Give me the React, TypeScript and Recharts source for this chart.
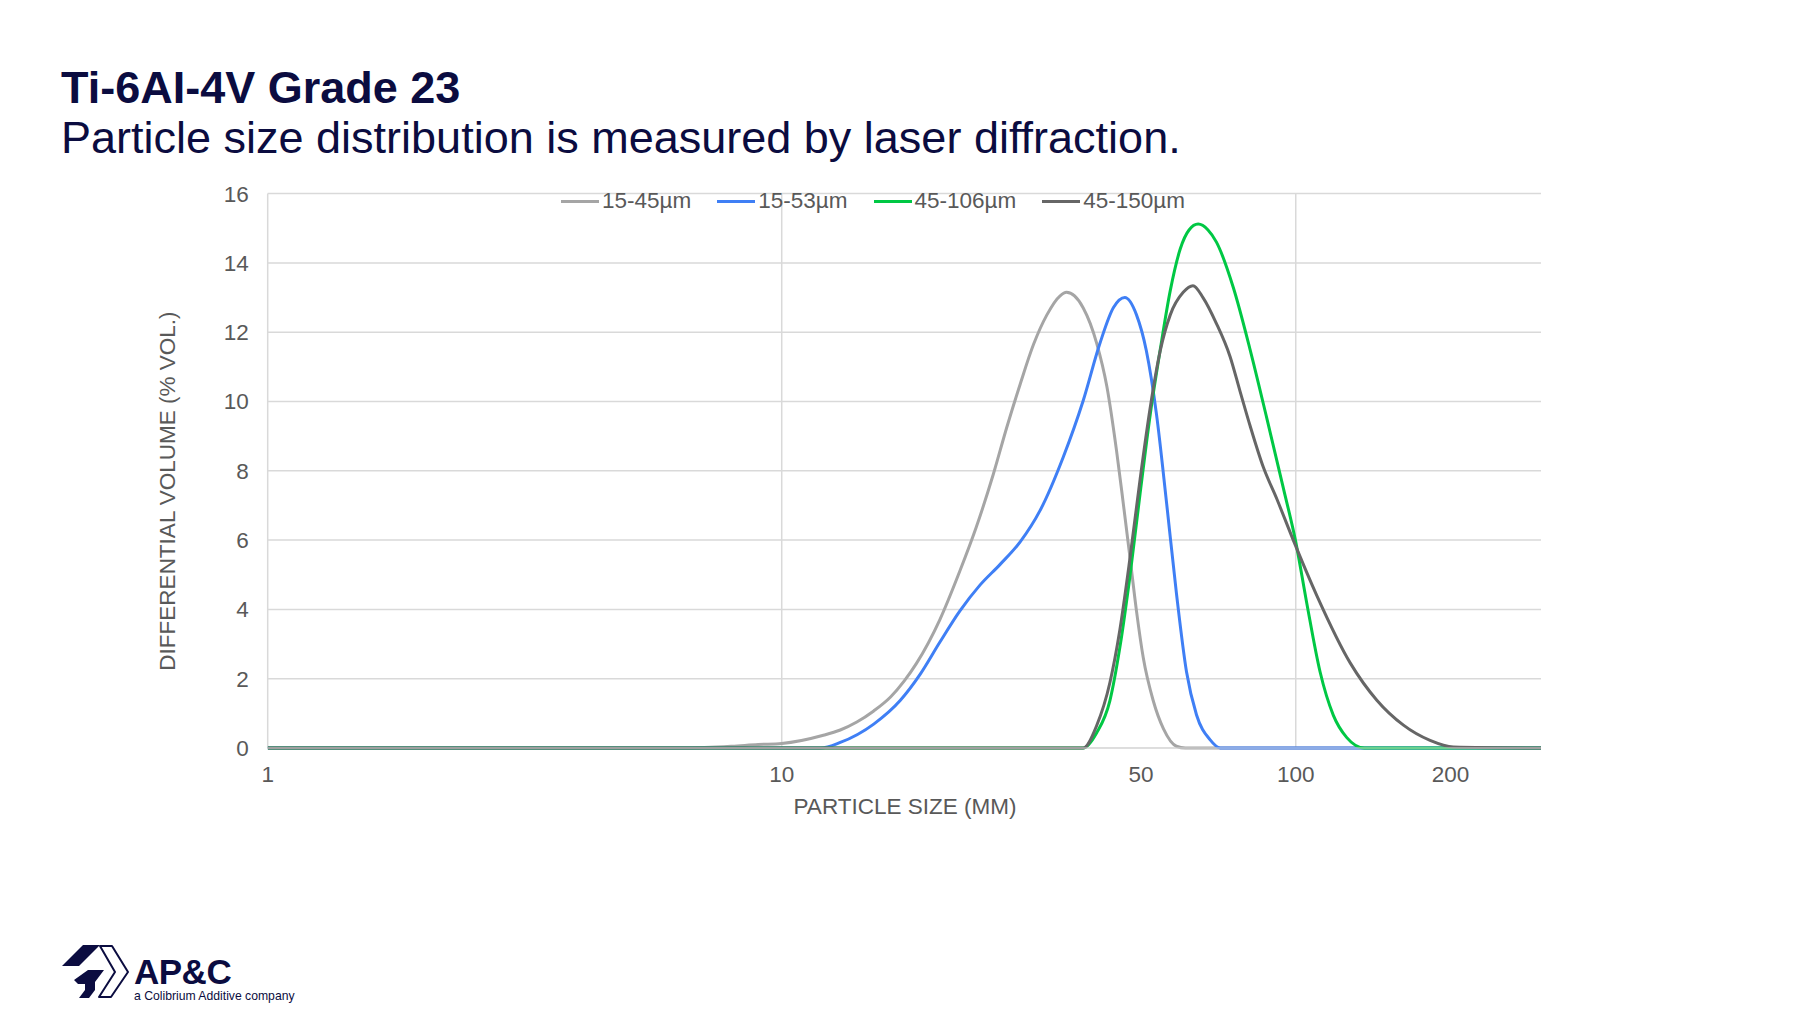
// Ti-6Al-4V Grade 23 粒度分布（雷射繞射）
// 四條篩分範圍曲線，X 軸為對數刻度

import { LineChart, Line, XAxis, YAxis, CartesianGrid, ReferenceLine } from 'recharts'

const FONT = '"Liberation Sans", Arial, sans-serif'
const NAVY = '#0b0c40'
const TEXT_GRAY = '#595959'
const AXIS_FONT = 22.5

const xTicks = [1, 10, 50, 100, 200]
const yTicks = [0, 2, 4, 6, 8, 10, 12, 14, 16]

const size15_45 = [1, 6.5, 8, 9, 10, 12, 13, 14, 15.1, 16.3, 17.3, 18.3, 20.3, 22.2, 23.9, 25.8, 27.4, 29.1, 30.9, 32.8, 34.8, 35.8, 38.6, 41, 42.9, 44.8, 46.2, 47.6, 49, 50.5, 52.8, 55.3, 58.6, 61, 300]
const vol15_45 = [0, 0, 0.05, 0.1, 0.13, 0.36, 0.52, 0.75, 1.07, 1.48, 1.93, 2.45, 3.7, 5.1, 6.37, 7.9, 9.25, 10.5, 11.65, 12.5, 13.05, 13.15, 12.7, 11.68, 10.44, 8.59, 7.04, 5.49, 3.95, 2.61, 1.37, 0.55, 0.05, 0, 0]

const size15_53 = [1, 11.9, 13, 15.1, 17, 18.6, 20.3, 22.2, 24.3, 26.6, 29.1, 31.8, 35.3, 38.6, 41.6, 44.2, 46.5, 49, 51.2, 53.6, 56.1, 58.6, 61.3, 64.1, 68.1, 71.3, 300]
const vol15_53 = [0, 0, 0.16, 0.69, 1.37, 2.13, 3.05, 3.95, 4.7, 5.3, 5.95, 6.85, 8.4, 10.03, 11.68, 12.71, 13.0, 12.5, 11.47, 9.62, 7.04, 4.46, 2.2, 0.96, 0.24, 0, 0]

const size45_106 = [1, 38.6, 41, 43.5, 45.5, 47.6, 49.8, 52.1, 54.5, 57, 59.6, 62, 64.6, 67.5, 70.1, 75.6, 81.5, 87.9, 94.6, 100, 105, 111.5, 118.3, 125.7, 136, 300]
const vol45_106 = [0, 0, 0.44, 1.37, 2.92, 4.98, 7.35, 9.62, 11.5, 13.2, 14.4, 14.95, 15.12, 14.95, 14.6, 13.29, 11.5, 9.5, 7.5, 5.95, 4.2, 2.2, 0.95, 0.3, 0, 0]

const size45_150 = [1, 38.6, 41, 43.5, 45.5, 47.6, 49.8, 52.1, 54.5, 57, 60.4, 63.1, 66, 70.1, 74.5, 77.9, 81.5, 86.5, 91.8, 98.9, 109.9, 127.7, 143.8, 162, 182.5, 202.6, 300]
const vol45_150 = [0, 0, 0.65, 1.89, 3.43, 5.49, 7.76, 9.82, 11.47, 12.5, 13.15, 13.34, 13.0, 12.25, 11.3, 10.3, 9.3, 8.1, 7.2, 6.0, 4.4, 2.45, 1.38, 0.66, 0.22, 0.03, 0]

const toPoints = (xs: number[], ys: number[]) => xs.map((x, i) => ({ size: x, v: ys[i] }))

const series = [
    { name: '15-45µm', color: '#a5a5a5', data: toPoints(size15_45, vol15_45) },
    { name: '15-53µm', color: '#3f7ff5', data: toPoints(size15_53, vol15_53) },
    { name: '45-106µm', color: '#00c844', data: toPoints(size45_106, vol45_106) },
    { name: '45-150µm', color: '#666666', data: toPoints(size45_150, vol45_150) },
]

function Logo() {
    return (
        <div style={{ position: 'absolute', left: 50, top: 930 }}>
            <svg width={90} height={75} style={{ position: 'absolute', left: 0, top: 0 }}>
                <polygon points="12,36 33,15 50,15 29,36" fill={NAVY} />
                <polygon points="50,16 62,16 78,42 61,67 49,67 65,42" fill="none" stroke={NAVY} strokeWidth={2} strokeLinejoin="round" />
                <polygon points="24,50 38,40 54,40 45,52 45,60 39,68 29,68 35,60 35,54 28,54" fill={NAVY} />
            </svg>
            <div style={{ position: 'absolute', left: 84, top: 23, fontFamily: FONT, fontWeight: 700, fontSize: 35, color: NAVY, lineHeight: '38px', letterSpacing: -0.5 }}>
                AP&amp;C
            </div>
            <div style={{ position: 'absolute', left: 84, top: 59, fontFamily: FONT, fontSize: 12.2, color: NAVY, whiteSpace: 'nowrap' }}>
                a Colibrium Additive company
            </div>
        </div>
    )
}

export default function App() {
    return (
        <div style={{ position: 'absolute', left: 0, top: 0, width: 1800, height: 1021, background: '#fff', fontFamily: FONT }}>
            <div style={{ position: 'absolute', left: 61, top: 65, fontSize: 45, lineHeight: '45px', fontWeight: 700, color: NAVY, whiteSpace: 'nowrap' }}>
                Ti-6AI-4V Grade 23
            </div>
            <div style={{ position: 'absolute', left: 61, top: 115, fontSize: 45, lineHeight: '45px', color: NAVY, whiteSpace: 'nowrap' }}>
                Particle size distribution is measured by laser diffraction.
            </div>

            <div style={{ position: 'absolute', left: 0, top: 0 }}>
                <LineChart width={1600} height={860} margin={{ top: 193.6, right: 59, bottom: 52, left: 0 }}>
                    <CartesianGrid vertical={false} stroke="#d9d9d9" strokeWidth={1.5} />
                    <ReferenceLine x={1} stroke="#d9d9d9" strokeWidth={1.5} />
                    <ReferenceLine x={10} stroke="#d9d9d9" strokeWidth={1.5} />
                    <ReferenceLine x={100} stroke="#d9d9d9" strokeWidth={1.5} />
                    <XAxis
                        dataKey="size"
                        type="number"
                        scale="log"
                        domain={[1, 300]}
                        ticks={xTicks}
                        allowDataOverflow
                        height={60}
                        tickLine={false}
                        tickSize={6}
                        tickMargin={12}
                        axisLine={{ stroke: '#d9d9d9' }}
                        tick={{ fill: TEXT_GRAY, fontSize: AXIS_FONT, fontFamily: FONT }}
                    />
                    <YAxis
                        type="number"
                        domain={[0, 16]}
                        ticks={yTicks}
                        width={267.7}
                        axisLine={false}
                        tickLine={false}
                        tickSize={6}
                        tickMargin={13}
                        tick={{ fill: TEXT_GRAY, fontSize: AXIS_FONT, fontFamily: FONT }}
                    />
                    {series.map((s) => (
                        <Line
                            key={s.name}
                            data={s.data}
                            dataKey="v"
                            name={s.name}
                            type="monotone"
                            stroke={s.color}
                            strokeWidth={3}
                            dot={false}
                            isAnimationActive={false}
                        />
                    ))}
                </LineChart>
            </div>

            <div style={{ position: 'absolute', left: 561, top: 188, display: 'flex', alignItems: 'center', gap: 26, height: 26 }}>
                {series.map((s) => (
                    <div key={s.name} style={{ display: 'flex', alignItems: 'center', gap: 3 }}>
                        <span style={{ display: 'inline-block', width: 38, height: 3, background: s.color }} />
                        <span style={{ fontSize: AXIS_FONT, color: TEXT_GRAY, lineHeight: '26px' }}>{s.name}</span>
                    </div>
                ))}
            </div>

            <div style={{ position: 'absolute', left: -32, top: 478, width: 400, textAlign: 'center', fontSize: AXIS_FONT, lineHeight: '26px', color: TEXT_GRAY, transform: 'rotate(-90deg)' }}>
                DIFFERENTIAL VOLUME (% VOL.)
            </div>
            <div style={{ position: 'absolute', left: 705, top: 794, width: 400, textAlign: 'center', fontSize: AXIS_FONT, lineHeight: '26px', color: TEXT_GRAY }}>
                PARTICLE SIZE (MM)
            </div>

            <Logo />
        </div>
    )
}
